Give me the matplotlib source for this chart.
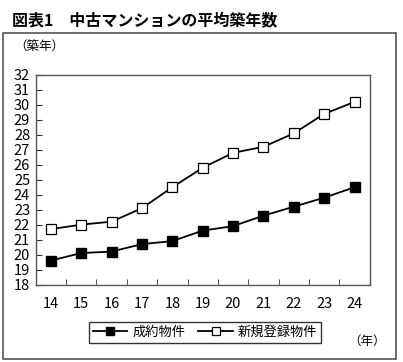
import matplotlib
matplotlib.use('Agg')
from matplotlib import pyplot as plt
from matplotlib.patches import Rectangle

plt.rcParams['font.family'] = ['Noto Sans CJK JP', 'DejaVu Sans']

years = [14, 15, 16, 17, 18, 19, 20, 21, 22, 23, 24]
seiyaku = [19.6, 20.1, 20.2, 20.7, 20.9, 21.6, 21.9, 22.6, 23.2, 23.8, 24.5]
shinki = [21.7, 22.0, 22.2, 23.1, 24.5, 25.8, 26.8, 27.2, 28.1, 29.4, 30.2]
series_names = ['成約物件', '新規登録物件']
title = '図表1\u3000中古マンションの平均築年数'

W, H = 403, 362
fig = plt.figure(figsize=(W / 100, H / 100), dpi=100)

# outer frame
fig.patches.append(Rectangle((3 / W, 3 / H), 393 / W, 326 / H, transform=fig.transFigure,
                             fill=False, edgecolor='#555555', linewidth=1.2))
fig.text(12 / W, 1 - 20 / H, title, fontsize=11.5, fontweight='bold', va='center', ha='left')
fig.text(14 / W, 1 - 47 / H, '（築年）', fontsize=9, va='center', ha='left')
fig.text(367 / W, 1 - 341 / H, '（年）', fontsize=9, va='center', ha='center')

ax = fig.add_axes([35.7 / W, 1 - 284.5 / H, 334 / W, 209.5 / H])
x = list(range(len(years)))
ax.plot(x, seiyaku, color='black', linewidth=1.3, marker='s', markersize=7.5,
        markerfacecolor='black', markeredgecolor='black', label=series_names[0])
ax.plot(x, shinki, color='black', linewidth=1.3, marker='s', markersize=7.5,
        markerfacecolor='white', markeredgecolor='black', markeredgewidth=0.9, label=series_names[1])

ax.set_xlim(-0.5, len(years) - 0.5)
ax.set_ylim(18, 32)
ax.set_yticks(range(18, 33))
ax.set_xticks(x)
ax.set_xticklabels([str(y) for y in years])
ax.set_xticks([i + 0.5 for i in x[:-1]], minor=True)
ax.tick_params(axis='x', which='major', length=0, pad=9, labelsize=10.5)
ax.tick_params(axis='x', which='minor', direction='in', length=4, color='#333333')
ax.tick_params(axis='y', direction='in', length=4, pad=4, labelsize=10.5, color='#333333')
for s in ax.spines.values():
    s.set_color('#555555')
    s.set_linewidth(1.0)

leg = fig.legend(loc='center', bbox_to_anchor=(205 / W, 1 - 332.5 / H), ncol=2, fontsize=9.5,
                 frameon=True, fancybox=False, edgecolor='black', handlelength=2.6,
                 borderpad=0.3, columnspacing=1.0, handletextpad=0.4, markerscale=0.7)
leg.get_frame().set_linewidth(1.0)

plt.savefig('out.png', dpi=100)
